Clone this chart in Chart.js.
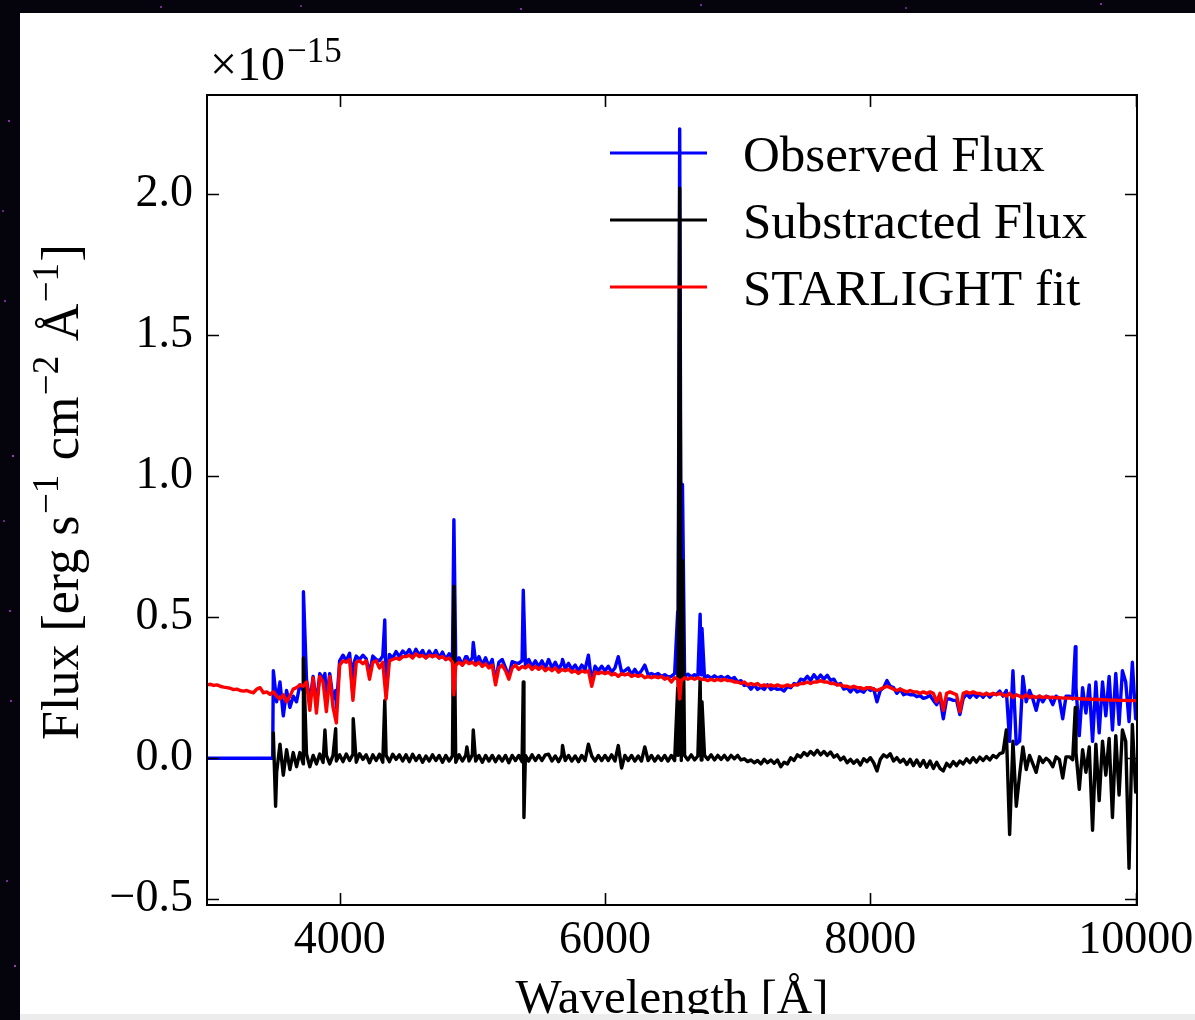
<!DOCTYPE html>
<html><head><meta charset="utf-8">
<script src="https://cdn.jsdelivr.net/npm/chart.js@4.4.0/dist/chart.umd.min.js"></script>
<style>
html,body{margin:0;padding:0;background:#05030b;width:1195px;height:1020px;overflow:hidden;}
#panel{position:absolute;left:20px;top:13px;width:1175px;height:1007px;background:#fff;}
#strip{position:absolute;left:20px;top:1014px;width:1175px;height:6px;background:#ececec;}
#wrap{position:absolute;left:0;top:0;width:1195px;height:1020px;}
#stars{position:absolute;left:0;top:0;width:2px;height:2px;background:transparent;
box-shadow:8px 120px #8a2fa8,4px 300px #7a2a98,12px 455px #9a3fb8,3px 520px #6a2288,10px 700px #8a2fa8,6px 880px #7a2a98,14px 965px #9a3fb8,
300px 5px #6a2288,520px 8px #8a2fa8,700px 4px #7a2a98,905px 7px #6a2288,1100px 3px #8a2fa8,160px 6px #7a2a98,9px 610px #8a2fa8,2px 210px #6a2288;}
</style></head>
<body>
<div id="panel"></div><div id="stars"></div>
<div id="wrap"><canvas id="c" width="1195" height="1020"></canvas></div>
<div id="strip"></div>
<script>
// ---- data (flux in units of 1e-15 erg s^-1 cm^-2 A^-1) ----
const seriesNames = ['Observed Flux', 'Substracted Flux', 'STARLIGHT fit'];
const xTicks = [4000, 6000, 8000, 10000];
const yTicks = [-0.5, 0.0, 0.5, 1.0, 1.5, 2.0];

const gridWave = [
3500,3525,3550,3575,3600,3625,3650,3675,3700,3725,3750,3775,3800,3825,3850,3875,3900,3925,3950,3975,
4000,4025,4050,4075,4100,4125,4150,4175,4200,4225,4250,4275,4300,4325,4350,4375,4400,4425,4450,4475,
4500,4525,4550,4575,4600,4625,4650,4675,4700,4725,4750,4775,4800,4825,4850,4875,4900,4925,4950,4975,
5000,5025,5050,5075,5100,5125,5150,5175,5200,5225,5250,5275,5300,5325,5350,5375,5400,5425,5450,5475,
5500,5525,5550,5575,5600,5625,5650,5675,5700,5725,5750,5775,5800,5825,5850,5875,5900,5925,5950,5975,
6000,6025,6050,6075,6100,6125,6150,6175,6200,6225,6250,6275,6300,6325,6350,6375,6400,6425,6450,6475,
6500,6525,6550,6575,6600,6625,6650,6675,6700,6725,6750,6775,6800,6825,6850,6875,6900,6925,6950,6975,
7000,7025,7050,7075,7100,7125,7150,7175,7200,7225,7250,7275,7300,7325,7350,7375,7400,7425,7450,7475,
7500,7525,7550,7575,7600,7625,7650,7675,7700,7725,7750,7775,7800,7825,7850,7875,7900,7925,7950,7975,
8000,8025,8050,8075,8100,8125,8150,8175,8200,8225,8250,8275,8300,8325,8350,8375,8400,8425,8450,8475,
8500,8525,8550,8575,8600,8625,8650,8675,8700,8725,8750,8775,8800,8825,8850,8875,8900,8925,8950,8975,
9000,9025,9050,9075,9100,9125,9150,9175,9200,9225,9250,9275,9300,9325,9350,9375,9400,9425,9450,9475,
9500,9525,9550,9575,9600,9625,9650,9675,9700,9725,9750,9775,9800,9825,9850,9875,9900,9925,9950,9975,
10000];

const obsGrid = [
0.31,0.2,0.27,0.15,0.24,0.18,0.22,0.2,0.26,0.24,0.28,0.2,0.29,0.19,0.3,0.28,0.2,0.3,0.21,0.18,
0.345,0.365,0.345,0.372,0.22,0.362,0.35,0.365,0.352,0.3,0.362,0.35,0.345,0.362,0.23,0.368,0.355,0.378,0.36,0.38,
0.368,0.385,0.36,0.386,0.365,0.382,0.356,0.38,0.36,0.382,0.355,0.376,0.35,0.37,0.345,0.34,0.356,0.33,0.36,0.34,
0.356,0.34,0.36,0.33,0.356,0.325,0.35,0.27,0.34,0.35,0.32,0.29,0.342,0.338,0.336,0.346,0.328,0.35,0.325,0.345,
0.325,0.345,0.32,0.35,0.32,0.34,0.315,0.336,0.318,0.336,0.315,0.33,0.31,0.33,0.315,0.365,0.27,0.326,0.31,0.326,
0.31,0.326,0.305,0.32,0.36,0.305,0.31,0.32,0.296,0.315,0.296,0.31,0.33,0.296,0.3,0.295,0.3,0.29,0.296,0.288,
0.29,0.3,0.284,0.296,0.29,0.298,0.288,0.296,0.29,0.296,0.285,0.292,0.284,0.292,0.284,0.29,0.282,0.29,0.28,0.286,
0.27,0.275,0.258,0.26,0.245,0.26,0.244,0.252,0.244,0.26,0.244,0.25,0.244,0.246,0.238,0.254,0.25,0.265,0.26,0.28,
0.276,0.29,0.276,0.296,0.28,0.295,0.28,0.294,0.276,0.28,0.26,0.265,0.245,0.25,0.235,0.25,0.235,0.24,0.234,0.25,
0.24,0.246,0.2,0.24,0.25,0.275,0.255,0.25,0.23,0.245,0.225,0.23,0.225,0.226,0.218,0.222,0.212,0.216,0.222,0.205,
0.19,0.214,0.14,0.21,0.21,0.205,0.205,0.155,0.212,0.228,0.215,0.23,0.216,0.228,0.216,0.23,0.216,0.228,0.226,0.238,
0.22,0.24,0.06,0.31,0.05,0.06,0.29,0.2,0.24,0.21,0.17,0.22,0.2,0.22,0.215,0.19,0.22,0.21,0.14,0.22,
0.22,0.21,0.25,0.08,0.25,0.16,0.26,0.06,0.27,0.09,0.27,0.15,0.29,0.1,0.3,0.12,0.31,0.27,0.13,0.34,
0.14];

const subGrid = [
0.09,-0.05,0.05,-0.06,0.03,-0.04,0.02,-0.03,0.02,-0.02,0.015,-0.03,0.01,-0.02,0.015,-0.015,0.01,-0.02,0.01,-0.01,
0.012,-0.012,0.015,-0.008,0.014,-0.014,0.016,-0.004,0.012,-0.016,0.012,-0.008,0.014,-0.014,0.01,-0.012,0.014,-0.004,0.012,-0.01,
0.012,-0.012,0.014,-0.008,0.01,-0.014,0.008,-0.01,0.012,-0.008,0.01,-0.014,0.01,-0.01,0.008,-0.014,0.012,-0.01,0.01,-0.01,
0.012,-0.01,0.01,-0.014,0.01,-0.01,0.01,-0.012,0.008,-0.01,0.01,-0.016,0.01,-0.008,0.01,-0.012,0.01,-0.01,0.012,-0.008,
0.01,-0.008,0.012,0.014,-0.01,0.008,-0.012,0.01,-0.008,0.01,-0.01,0.008,-0.012,0.01,-0.008,0.05,0.008,-0.01,0.01,-0.008,
0.01,-0.008,0.012,-0.01,0.045,-0.035,0.01,-0.008,0.01,-0.01,0.008,-0.01,0.04,-0.008,0.01,-0.01,0.008,-0.008,0.01,-0.01,
0.01,-0.008,0.01,-0.008,0.01,-0.006,0.012,-0.006,0.008,-0.006,0.01,-0.004,0.012,-0.006,0.01,-0.004,0.01,-0.006,0.01,-0.002,
0.01,-0.006,-0.002,-0.012,-0.006,-0.016,-0.008,-0.02,-0.004,-0.016,-0.006,-0.018,-0.006,-0.03,-0.014,-0.02,0.002,-0.008,0.012,0.004,
0.02,0.01,0.024,0.012,0.028,0.012,0.024,0.01,0.022,0.004,0.012,-0.006,0.004,-0.016,-0.004,-0.018,-0.006,-0.024,-0.002,-0.012,
0.002,-0.016,-0.045,-0.004,0.012,0.004,0.016,-0.01,0.002,-0.014,-0.004,-0.022,-0.004,-0.026,-0.006,-0.028,-0.008,-0.032,-0.01,-0.036,
-0.014,-0.036,-0.045,-0.018,-0.03,-0.012,-0.026,-0.01,-0.02,-0.002,-0.016,0.002,-0.014,0.004,-0.008,0.006,-0.006,0.01,0.002,0.016,
0.02,0.1,-0.27,0.06,-0.17,-0.06,0.04,-0.04,0.01,-0.02,-0.05,0.005,-0.015,0.0,-0.01,-0.03,0.005,-0.005,-0.07,0.005,
0.005,-0.005,0.02,-0.11,0.03,-0.05,0.04,-0.255,0.05,-0.15,0.06,-0.06,0.07,-0.21,0.08,-0.13,0.1,0.06,-0.39,0.12,
-0.12];

const fitGrid = [
0.235,0.22,0.21,0.225,0.20,0.22,0.245,0.25,0.26,0.255,0.27,0.17,0.285,0.16,0.29,0.27,0.165,0.29,0.18,0.125,
0.33,0.345,0.34,0.35,0.205,0.34,0.345,0.335,0.345,0.28,0.34,0.345,0.32,0.34,0.21,0.345,0.35,0.355,0.35,0.36,
0.36,0.365,0.355,0.37,0.36,0.365,0.355,0.365,0.36,0.365,0.355,0.36,0.35,0.355,0.34,0.33,0.34,0.33,0.345,0.335,
0.34,0.33,0.34,0.325,0.335,0.32,0.33,0.26,0.32,0.33,0.31,0.28,0.32,0.33,0.315,0.325,0.32,0.33,0.315,0.325,
0.315,0.325,0.31,0.32,0.31,0.32,0.305,0.315,0.31,0.315,0.305,0.31,0.3,0.31,0.305,0.31,0.255,0.305,0.3,0.305,
0.3,0.305,0.295,0.3,0.29,0.3,0.295,0.3,0.29,0.295,0.29,0.295,0.285,0.29,0.285,0.29,0.285,0.29,0.28,0.285,
0.27,0.285,0.28,0.275,0.285,0.28,0.285,0.28,0.285,0.28,0.28,0.275,0.28,0.275,0.28,0.275,0.28,0.275,0.275,0.27,
0.27,0.265,0.27,0.26,0.265,0.26,0.265,0.255,0.26,0.255,0.26,0.255,0.26,0.255,0.255,0.26,0.255,0.26,0.26,0.265,
0.265,0.27,0.265,0.27,0.27,0.275,0.27,0.27,0.265,0.265,0.26,0.26,0.255,0.255,0.25,0.255,0.25,0.25,0.245,0.25,
0.25,0.245,0.24,0.245,0.25,0.255,0.25,0.245,0.24,0.245,0.24,0.235,0.24,0.235,0.235,0.23,0.235,0.23,0.235,0.23,
0.2,0.23,0.17,0.23,0.235,0.23,0.225,0.165,0.23,0.235,0.23,0.235,0.23,0.23,0.225,0.23,0.225,0.23,0.225,0.23,
0.225,0.22,0.23,0.215,0.225,0.22,0.215,0.225,0.215,0.22,0.215,0.22,0.215,0.218,0.215,0.216,0.214,0.215,0.213,0.214,
0.213,0.212,0.212,0.211,0.21,0.21,0.209,0.209,0.208,0.208,0.207,0.207,0.206,0.206,0.206,0.205,0.205,0.205,0.204,0.204,
0.204];

// observed spectrum below the blue limit of the data (zero-filled)
const obsPreWave = [3000, 3495];
const obsPreFlux = [0, 0];
// STARLIGHT model extending blueward of the data
const fitPreWave = [3000,3025,3050,3075,3100,3125,3150,3175,3200,3225,3250,3275,3300,3325,3350,3375,3400,3425,3450,3475];
const fitPreFlux = [0.26,0.262,0.258,0.26,0.255,0.252,0.25,0.248,0.243,0.245,0.24,0.238,0.24,0.235,0.232,0.245,0.25,0.232,0.235,0.226];

// emission lines
const lineWave = [3727, 3889, 3970, 4102, 4340, 4861, 4959, 5007, 5384, 5680, 6548, 6563, 6584, 6717, 6731, 9545];
const obsLine  = [0.59, 0.3, 0.24, 0.33, 0.49, 0.845, 0.36, 0.41, 0.595, 0.35, 0.52, 2.23, 0.97, 0.51, 0.46, 0.395];
const subLine  = [0.355, 0.1, 0.105, 0.14, 0.205, 0.61, 0.04, 0.1, 0.27, 0.045, 0.25, 2.02, 0.7, 0.28, 0.2, 0.18];
// negative residual spikes in the subtracted spectrum
const subDipWave = [3517, 5389];
const subDipFlux = [-0.17, -0.21];
// model absorption cores under emission lines
const fitDipWave = [4861, 6563];
const fitDipFlux = [0.225, 0.21];

function merge(...pairs) {
  const pts = [];
  pairs.forEach(([w, f]) => w.forEach((x, i) => pts.push({x: x, y: f[i]})));
  pts.sort((a, b) => a.x - b.x);
  return pts;
}

const SERIF = "'Liberation Serif', 'DejaVu Serif', serif";
const TICK_PX = 46;

const decor = {
  id: 'decor',
  afterDraw(chart) {
    const ctx = chart.ctx, a = chart.chartArea;
    const xs = chart.scales.x, ys = chart.scales.y;
    ctx.save();
    ctx.strokeStyle = '#000';
    ctx.lineWidth = 2;
    ctx.strokeRect(a.left, a.top, a.right - a.left, a.bottom - a.top);
    const TL = 12;
    ctx.beginPath();
    xTicks.forEach(v => {
      const px = Math.round(xs.getPixelForValue(v)) + 0.5;
      ctx.moveTo(px, a.bottom); ctx.lineTo(px, a.bottom - TL);
      ctx.moveTo(px, a.top); ctx.lineTo(px, a.top + TL);
    });
    yTicks.forEach(v => {
      const py = Math.round(ys.getPixelForValue(v)) + 0.5;
      ctx.moveTo(a.left, py); ctx.lineTo(a.left + TL, py);
      ctx.moveTo(a.right, py); ctx.lineTo(a.right - TL, py);
    });
    ctx.lineWidth = 1.6;
    ctx.stroke();

    // legend (no frame)
    const colors = ['#0000ff', '#000000', '#ff0000'];
    ctx.font = '51px ' + SERIF;
    ctx.fillStyle = '#000';
    ctx.textBaseline = 'alphabetic';
    ctx.textAlign = 'left';
    seriesNames.forEach((name, i) => {
      const y = 153 + i * 67;
      ctx.strokeStyle = colors[i];
      ctx.lineWidth = 3;
      ctx.beginPath(); ctx.moveTo(610, y); ctx.lineTo(707, y); ctx.stroke();
      ctx.fillText(name, 743, y + 18);
    });

    // offset text x10^-15
    ctx.font = '48px ' + SERIF;
    ctx.fillText('\u00D710', 210, 80);
    const w10 = ctx.measureText('\u00D710').width;
    ctx.font = '35px ' + SERIF;
    ctx.fillText('\u221215', 210 + w10 + 2, 62);

    // x axis title
    ctx.font = '49px ' + SERIF;
    ctx.textAlign = 'center';
    ctx.fillText('Wavelength [\u00C5]', (a.left + a.right) / 2, 1013);

    // y axis title with superscripts
    const parts = [['Flux [erg s', 0], ['\u22121', 1], [' cm', 0], ['\u22122', 1], [' \u00C5', 0], ['\u22121', 1], [']', 0]];
    const mainF = '52px ' + SERIF, supF = '37px ' + SERIF;
    let total = 0;
    parts.forEach(([t, s]) => { ctx.font = s ? supF : mainF; total += ctx.measureText(t).width + (s ? 3 : 0); });
    ctx.translate(78, 492);
    ctx.rotate(-Math.PI / 2);
    ctx.textAlign = 'left';
    let x = -total / 2;
    parts.forEach(([t, s]) => {
      ctx.font = s ? supF : mainF;
      ctx.fillText(t, x + (s ? 1.5 : 0), s ? -20 : 0);
      x += ctx.measureText(t).width + (s ? 3 : 0);
    });
    ctx.restore();
  }
};

const common = {pointRadius: 0, borderWidth: 3.4, fill: false, tension: 0, borderJoinStyle: 'round', borderCapStyle: 'round', spanGaps: true};

new Chart(document.getElementById('c'), {
  type: 'line',
  data: {
    datasets: [
      Object.assign({label: seriesNames[0], data: merge([obsPreWave, obsPreFlux], [gridWave, obsGrid], [lineWave, obsLine]), borderColor: '#0000ff', order: 3}, common),
      Object.assign({label: seriesNames[1], data: merge([gridWave, subGrid], [lineWave, subLine], [subDipWave, subDipFlux]), borderColor: '#000000', order: 2}, common),
      Object.assign({label: seriesNames[2], data: merge([fitPreWave, fitPreFlux], [gridWave, fitGrid], [fitDipWave, fitDipFlux]), borderColor: '#ff0000', order: 1}, common)
    ]
  },
  options: {
    responsive: false,
    animation: false,
    devicePixelRatio: 1,
    layout: {padding: {top: 95, right: 58, left: 0, bottom: 0}},
    plugins: {legend: {display: false}, tooltip: {enabled: false}},
    scales: {
      x: {
        type: 'linear', min: 3000, max: 10010,
        grid: {display: false, drawTicks: false}, border: {display: false},
        ticks: {color: '#000', font: {family: SERIF, size: TICK_PX}, padding: 8, maxRotation: 0, autoSkip: false,
                callback: v => String(v)},
        afterBuildTicks: s => { s.ticks = xTicks.map(v => ({value: v})); },
        afterFit: s => { s.height = 115; s.paddingLeft = 0; s.paddingRight = 0; }
      },
      y: {
        type: 'linear', min: -0.52, max: 2.35,
        grid: {display: false, drawTicks: false}, border: {display: false},
        ticks: {color: '#000', font: {family: SERIF, size: TICK_PX}, padding: 14, autoSkip: false,
                callback: v => (v < 0 ? '\u2212' : '') + Math.abs(v).toFixed(1)},
        afterBuildTicks: s => { s.ticks = yTicks.map(v => ({value: v})); },
        afterFit: s => { s.width = 207; s.paddingTop = 0; s.paddingBottom = 0; }
      }
    }
  },
  plugins: [decor]
});
</script>
</body></html>
